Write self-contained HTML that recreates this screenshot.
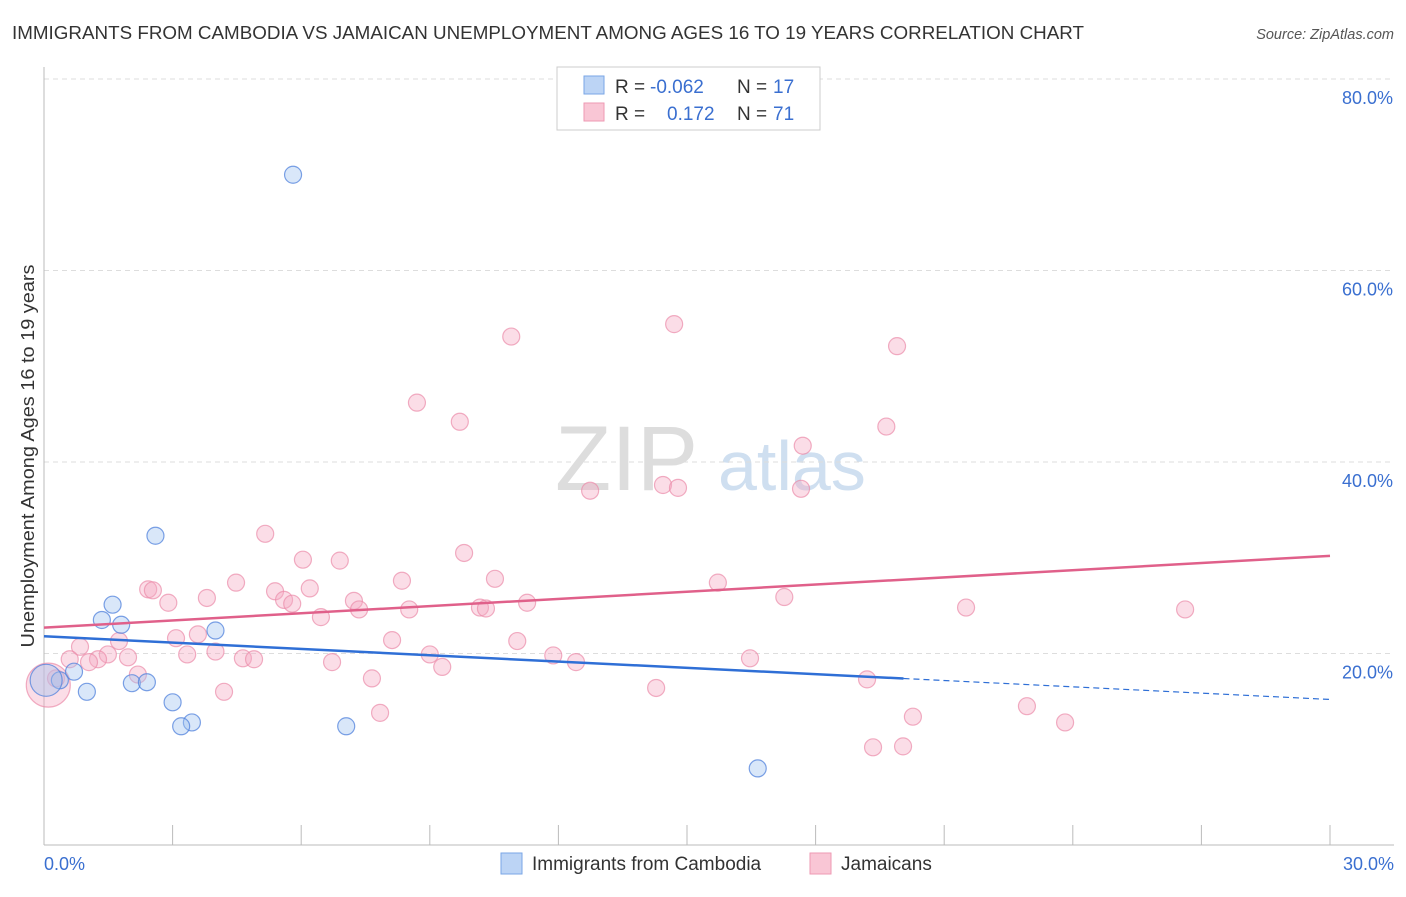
<!DOCTYPE html>
<html><head><meta charset="utf-8"><style>
body{margin:0;background:#fff;font-family:"Liberation Sans",sans-serif;}
svg text{font-family:"Liberation Sans",sans-serif;}
</style></head><body>
<svg id="c" width="1406" height="892" xmlns="http://www.w3.org/2000/svg">
<text x="12" y="39" font-size="18" fill="#333" textLength="1072" lengthAdjust="spacingAndGlyphs">IMMIGRANTS FROM CAMBODIA VS JAMAICAN UNEMPLOYMENT AMONG AGES 16 TO 19 YEARS CORRELATION CHART</text>
<text x="1394" y="39" font-size="14.5" fill="#555" font-style="italic" text-anchor="end">Source: ZipAtlas.com</text>
<text x="555" y="490" font-size="92" fill="#ddd" font-family="Liberation Serif">ZIP</text>
<text x="718" y="490" font-size="70" fill="#cfdff0">atlas</text>
<text transform="translate(34,456) rotate(-90)" font-size="18" fill="#333" text-anchor="middle" textLength="383" lengthAdjust="spacingAndGlyphs">Unemployment Among Ages 16 to 19 years</text>
<g id="grid"></g><g id="pts"></g><g id="lines"></g>
<g>
<rect x="557" y="67" width="263" height="63" fill="#fff" stroke="#ccc"/>
<rect x="584" y="76" width="20" height="18" fill="#bcd4f5" stroke="#7aa6e6"/>
<rect x="584" y="103" width="20" height="18" fill="#f9c6d5" stroke="#ee99b3"/>
<text x="615" y="93" font-size="19" fill="#333">R =</text>
<text x="650" y="93" font-size="19" fill="#3a6fd0">-0.062</text>
<text x="737" y="93" font-size="19" fill="#333">N =</text>
<text x="773" y="93" font-size="19" fill="#3a6fd0">17</text>
<text x="615" y="120" font-size="19" fill="#333">R =</text>
<text x="667" y="120" font-size="19" fill="#3a6fd0">0.172</text>
<text x="737" y="120" font-size="19" fill="#333">N =</text>
<text x="773" y="120" font-size="19" fill="#3a6fd0">71</text>
</g>
<g>
<rect x="501" y="853" width="21" height="21" fill="#bcd4f5" stroke="#7aa6e6"/>
<text x="532" y="870" font-size="19" fill="#333">Immigrants from Cambodia</text>
<rect x="810" y="853" width="21" height="21" fill="#f9c6d5" stroke="#ee99b3"/>
<text x="841" y="870" font-size="19" fill="#333">Jamaicans</text>
</g>
</svg>
<script>
const yTicks=[20,40,60,80];
const xTickLabels=["0.0%","30.0%"];
const blueX=[5.81,2.6,1.6,1.35,1.8,4.0,0.7,0.37,1.0,2.05,2.4,3.0,3.45,3.2,7.05,16.65,0.05];
const blueY=[70.0,32.3,25.1,23.5,23.0,22.4,18.1,17.2,16.0,16.9,17.0,14.9,12.8,12.4,12.4,8.0,17.2];
const pinkX=[10.9,14.7,19.9,8.7,9.7,19.65,17.7,12.74,14.44,14.79,17.66,5.16,9.8,6.04,6.9,2.43,2.54,4.48,8.35,10.52,15.72,5.39,6.2,3.8,2.9,5.6,5.79,7.23,7.35,8.52,10.17,10.31,11.27,17.27,21.51,26.62,6.46,3.08,3.59,1.75,8.12,11.04,0.84,1.49,3.34,4.0,1.96,4.64,4.9,1.26,1.05,9.0,11.88,6.72,12.41,16.47,9.29,2.19,0.28,7.65,19.2,4.2,14.28,7.84,20.27,22.93,23.82,19.34,20.04,0.1,0.6];
const pinkY=[53.1,54.4,52.1,46.2,44.2,43.7,41.7,37.0,37.6,37.3,37.2,32.5,30.5,29.8,29.7,26.7,26.6,27.4,27.6,27.8,27.4,26.5,26.8,25.8,25.3,25.6,25.2,25.5,24.6,24.6,24.8,24.7,25.3,25.9,24.8,24.6,23.8,21.6,22.0,21.3,21.4,21.3,20.7,19.9,19.9,20.2,19.6,19.5,19.4,19.4,19.1,19.9,19.8,19.1,19.1,19.5,18.6,17.8,17.4,17.4,17.3,16.0,16.4,13.8,13.4,14.5,12.8,10.2,10.3,16.7,19.4];
const pinkTrend=[22.7,30.2], blueTrend=[21.8,15.2], blueSolidEnd=20.05;
const NS="http://www.w3.org/2000/svg";
const X=v=>44+v/30*1286, Y=v=>845-v/20*191.5;
function mk(t,a,p){const e=document.createElementNS(NS,t);for(const k in a)e.setAttribute(k,a[k]);p.appendChild(e);return e;}
const g=document.getElementById('grid');
yTicks.forEach(t=>{
 const l=mk('line',{x1:44,x2:1394,y1:Y(t),y2:Y(t),stroke:'#ddd','stroke-dasharray':'5,4'},g);
 
 
 const tx=mk('text',{x:1393,y:Y(t)+25,'font-size':18,fill:'#3a6fd0','text-anchor':'end'},g);
 tx.textContent=t.toFixed(1)+'%';
 
 
});
mk('line',{x1:44,x2:44,y1:67,y2:845,stroke:'#bbb'},g);
mk('line',{x1:44,x2:1394,y1:845,y2:845,stroke:'#bbb'},g);
for(let i=0;i<=10;i++){const tk=mk('line',{x1:X(i*3),x2:X(i*3),y1:825,y2:845,stroke:'#bbb'},g);
 
 }
[[0,44,'start'],[1,1394,'end']].forEach(([i,x,a])=>{const t=mk('text',{x:x,y:870,'font-size':18,fill:'#3a6fd0','text-anchor':a},g);t.textContent=xTickLabels[i];
 
 });
const p=document.getElementById('pts');
pinkX.forEach((v,i)=>{const last=i==pinkX.length-2;const c=mk('circle',{cx:X(v),cy:Y(pinkY[i]),r:last?22:8.5,fill:'rgba(246,170,195,0.4)',stroke:'rgba(235,140,170,0.7)','stroke-width':1.2},p);
 
 });
blueX.forEach((v,i)=>{const last=i==blueX.length-1;const c=mk('circle',{cx:X(v),cy:Y(blueY[i]),r:last?16:8.5,fill:'rgba(160,195,240,0.4)',stroke:'rgba(80,130,220,0.75)','stroke-width':1.2},p);
 
 });
const L=document.getElementById('lines');
const pl=mk('line',{x1:X(0),y1:Y(pinkTrend[0]),x2:X(30),y2:Y(pinkTrend[1]),stroke:'#e0608a','stroke-width':2.5},L);


const bAt=x=>blueTrend[0]+(blueTrend[1]-blueTrend[0])*x/30;
const bl=mk('line',{x1:X(0),y1:Y(bAt(0)),x2:X(blueSolidEnd),y2:Y(bAt(blueSolidEnd)),stroke:'#2f6fd6','stroke-width':2.5},L);


const bd=mk('line',{x1:X(blueSolidEnd),y1:Y(bAt(blueSolidEnd)),x2:X(30),y2:Y(bAt(30)),stroke:'#2f6fd6','stroke-width':1.2,'stroke-dasharray':'6,4'},L);


</script>
</body></html>
